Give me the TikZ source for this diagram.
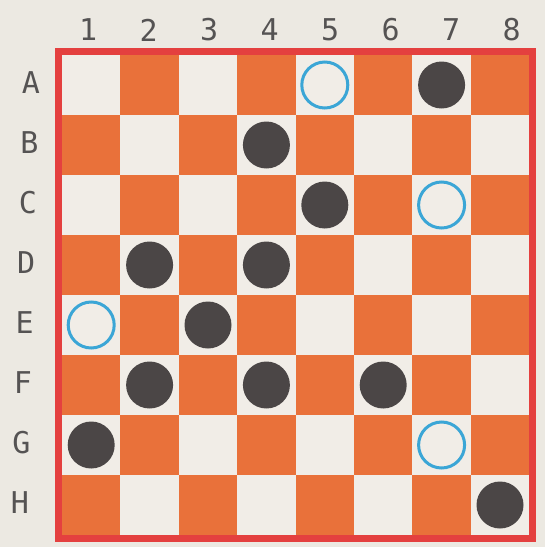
\documentclass[tikz,border=0pt]{standalone}
\usepackage{fontspec}
\setmainfont{DejaVu Sans Mono}
\usetikzlibrary{positioning}
\definecolor{paper}{HTML}{ECE9E2}
\definecolor{lightsq}{HTML}{F1EDE7}
\definecolor{darksq}{HTML}{E9713A}
\definecolor{frame}{HTML}{E4403F}
\definecolor{stone}{HTML}{4B4646}
\definecolor{ring}{HTML}{3BA6D6}
\definecolor{labelgray}{HTML}{555353}

\begin{document}
\begin{tikzpicture}[
          x=1pt, y=-1pt,
          every node/.style={font=\fontsize{30}{32}\selectfont, text=labelgray},
          blackpiece/.style={circle, fill=stone, minimum size=47pt, inner sep=0pt},
          openpiece/.style={circle, draw=ring, line width=3pt, minimum size=46pt, inner sep=0pt}
      ]
        \fill[paper] (0,0) rectangle (545,547);

        % board squares
        \begin{scope}[shift={(62,55)}, x=58.4pt, y=-60pt]
          \foreach \r in {1,...,8}
            \foreach \c in {1,...,8} {
              \pgfmathparse{int(mod(\r+\c,2))}
              \ifnum\pgfmathresult=0
                \fill[lightsq] (\c-1,\r-1) rectangle (\c,\r);
              \else
                \fill[darksq] (\c-1,\r-1) rectangle (\c,\r);
              \fi
            }

          % pieces
          \node[openpiece]  (a5) at (4.5,0.5) {};
          \node[blackpiece] (a7) at (6.5,0.5) {};
          \node[blackpiece] (b4) at (3.5,1.5) {};
          \node[blackpiece] (c5) at (4.5,2.5) {};
          \node[openpiece]  (c7) at (6.5,2.5) {};
          \node[blackpiece] (d2) at (1.5,3.5) {};
          \node[blackpiece] (d4) at (3.5,3.5) {};
          \node[openpiece]  (e1) at (0.5,4.5) {};
          \node[blackpiece] (e3) at (2.5,4.5) {};
          \node[blackpiece] (f2) at (1.5,5.5) {};
          \node[blackpiece] (f4) at (3.5,5.5) {};
          \node[blackpiece] (f6) at (5.5,5.5) {};
          \node[blackpiece] (g1) at (0.5,6.5) {};
          \node[openpiece]  (g7) at (6.5,6.5) {};
          \node[blackpiece] (h8) at (7.5,7.5) {};
        \end{scope}

        \draw[frame, line width=7pt] (58.5,51.5) rectangle (532.5,538.5);

        % coordinates along the edges
        \foreach \c in {1,...,8}
          \node (col\c) at ({58+(\c-0.5)*60.5},30) {\c};
        \foreach \l [count=\r] in {A,B,C,D,E,F,G,H}
          \node (row\l) at ({31-(\r-1)*1.6},{83+(\r-1)*60}) {\l};
      \end{tikzpicture}
\end{document}
